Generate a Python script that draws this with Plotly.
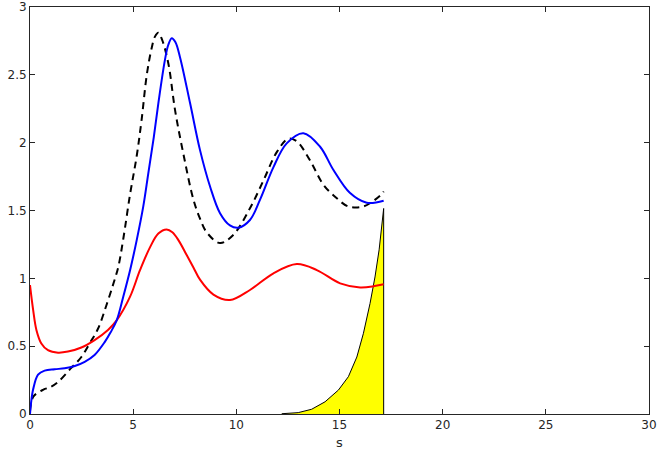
import plotly.graph_objects as go

# Blue solid curve
blue_x = [0, 0.05, 0.15, 0.39, 0.71, 1.2, 1.68, 2.17, 2.65, 3.13, 3.62, 3.9, 4.2, 4.52, 4.85,
          5.17, 5.49, 5.73, 5.98, 6.22, 6.54, 6.7, 6.87, 7.05, 7.27, 7.76, 8.24, 8.73, 9.21, 9.69,
          10.1, 10.66, 11.15, 11.8, 12.44, 13.25, 14.06, 14.7, 15.5, 16.32, 17.14]
blue_y = [0, 0.08, 0.18, 0.29, 0.32, 0.33, 0.337, 0.354, 0.385, 0.435, 0.53, 0.6, 0.69, 0.865, 1.06,
          1.28, 1.53, 1.77, 2.02, 2.29, 2.61, 2.72, 2.77, 2.74, 2.63, 2.29, 1.945, 1.675, 1.48, 1.39,
          1.373, 1.43, 1.58, 1.82, 1.995, 2.07, 1.97, 1.80, 1.63, 1.557, 1.572]

# Red solid curve
red_x = [0, 0.15, 0.31, 0.55, 0.87, 1.36, 1.84, 2.49, 3.13, 3.78, 4.2, 4.85, 5.33, 5.82, 6.22,
         6.62, 6.9, 7.2, 7.6, 7.92, 8.24, 8.89, 9.69, 10.66, 11.8, 12.93, 13.9, 15.03, 16.0, 16.7, 17.14]
red_y = [0.95, 0.77, 0.62, 0.52, 0.47, 0.452, 0.46, 0.49, 0.545, 0.62, 0.69, 0.865, 1.06, 1.23, 1.33,
         1.36, 1.34, 1.28, 1.17, 1.08, 0.99, 0.88, 0.84, 0.914, 1.037, 1.105, 1.061, 0.963, 0.933, 0.943, 0.956]

# Black dashed curve
dash_x = [0, 0.16, 0.65, 0.97, 1.37, 2.0, 2.49, 2.89, 3.30, 3.70, 4.04, 4.28, 4.52, 4.85, 5.17,
          5.41, 5.66, 5.9, 6.05, 6.22, 6.4, 6.71, 7.03, 7.43, 7.92, 8.24, 8.56, 9.21, 9.85, 10.66,
          11.31, 11.96, 12.52, 12.93, 13.57, 14.22, 14.87, 15.43, 16.16, 16.97, 17.14]
dash_y = [0.02, 0.127, 0.18, 0.197, 0.238, 0.34, 0.42, 0.52, 0.63, 0.8, 0.96, 1.085, 1.29, 1.62, 1.9,
          2.17, 2.5, 2.7, 2.78, 2.81, 2.76, 2.58, 2.24, 1.92, 1.58, 1.44, 1.34, 1.26, 1.32, 1.516,
          1.72, 1.93, 2.03, 2.01, 1.87, 1.69, 1.59, 1.53, 1.53, 1.61, 1.64]

# Yellow filled area (ends with drop back to zero)
area_x = [12.2, 13.0, 13.65, 14.3, 14.95, 15.43, 15.84, 16.16, 16.48, 16.72, 16.92, 17.08, 17.14, 17.14]
area_y = [0.002, 0.01, 0.035, 0.09, 0.177, 0.275, 0.42, 0.595, 0.815, 1.01, 1.21, 1.43, 1.515, 0]

fig = go.Figure()

fig.add_trace(go.Scatter(x=area_x, y=area_y, mode='lines', fill='tozeroy',
                         fillcolor='#ffff00', line=dict(color='black', width=1)))
fig.add_trace(go.Scatter(x=dash_x, y=dash_y, mode='lines', line_shape='spline',
                         line=dict(color='black', width=2, dash='7px,5px', smoothing=1)))
fig.add_trace(go.Scatter(x=red_x, y=red_y, mode='lines', line_shape='spline',
                         line=dict(color='#ff0000', width=2, smoothing=1)))
fig.add_trace(go.Scatter(x=blue_x, y=blue_y, mode='lines', line_shape='spline',
                         line=dict(color='#0000ff', width=2, smoothing=1)))

axis_style = dict(showgrid=False, zeroline=False, showline=True, linecolor='#262626',
                  linewidth=1, mirror='allticks', ticks='inside', ticklen=5, automargin=False,
                  tickcolor='#262626', tickfont=dict(family='DejaVu Sans', size=12, color='#262626'))

fig.update_xaxes(range=[0, 30], tickvals=[0, 5, 10, 15, 20, 25, 30],
                 title=dict(text='s', font=dict(family='DejaVu Sans', size=13, color='#262626'), standoff=6),
                 **axis_style)
fig.update_yaxes(range=[0, 3], tickvals=[0, 0.5, 1, 1.5, 2, 2.5, 3], **axis_style)

fig.update_layout(
    width=661, height=457,
    margin=dict(l=30, r=12, t=7, b=43),
    plot_bgcolor='white', paper_bgcolor='white',
    showlegend=False,
)

# the page body has a default margin; drop it so the figure sits at the window corner
fig.write_html("out.html", config={'displayModeBar': False},
               post_script="document.body.style.margin='0px';")
